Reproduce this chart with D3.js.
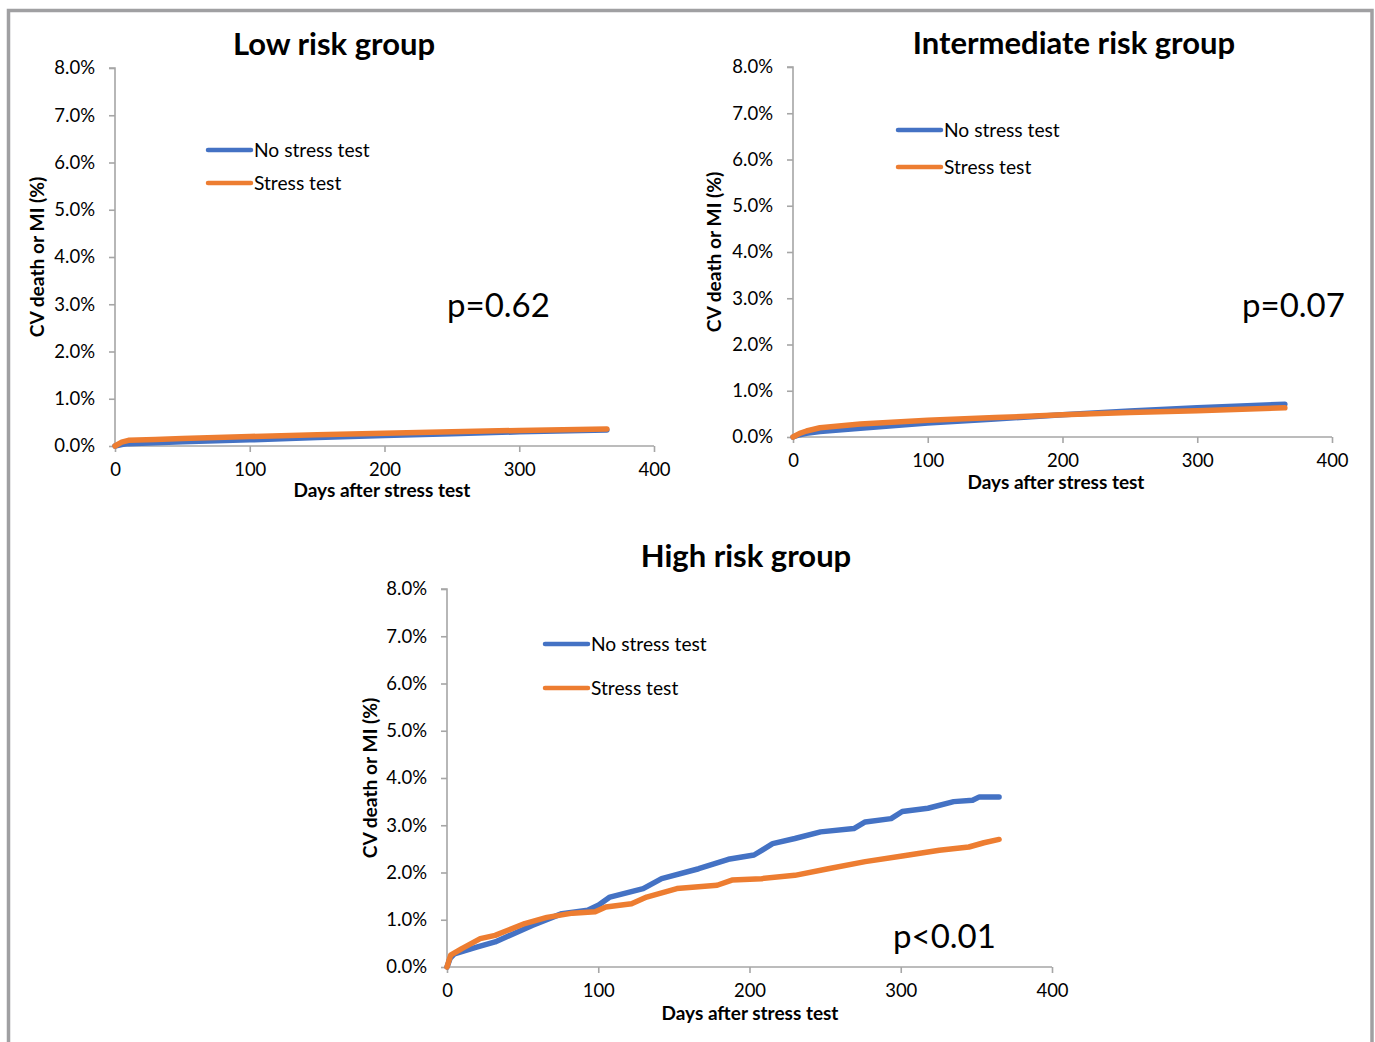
<!DOCTYPE html>
<html>
<head>
<meta charset="utf-8">
<script src="https://cdn.jsdelivr.net/npm/d3@7"></script>
<style>
  html, body { margin: 0; padding: 0; background: #fff; }
  svg { display: block; }
  text { font-family: Lato, "Open Sans", sans-serif; fill: #000; }
</style>
</head>
<body>
<svg id="chart" width="1375" height="1042"></svg>
<script>
// ---------- DATA ----------
const seriesNames = ["No stress test", "Stress test"];
const xTicks = [0, 100, 200, 300, 400];
const yTicks = [0, 1, 2, 3, 4, 5, 6, 7, 8]; // percent
const panelTitles = ["Low risk group", "Intermediate risk group", "High risk group"];
const pValues = ["p=0.62", "p=0.07", "p<0.01"];

// Low risk group (days, % cumulative)
const lowDays      = [0, 5, 10, 30, 50, 100, 150, 200, 250, 300, 365];
const lowNoStress  = [0, 0.03, 0.05, 0.07, 0.09, 0.13, 0.18, 0.22, 0.26, 0.30, 0.34];
const lowStress    = [0, 0.08, 0.12, 0.14, 0.16, 0.20, 0.24, 0.27, 0.30, 0.33, 0.36];

// Intermediate risk group
const intDays      = [0, 5, 10, 20, 50, 100, 150, 200, 250, 300, 365];
const intNoStress  = [0, 0.05, 0.08, 0.12, 0.19, 0.30, 0.39, 0.48, 0.56, 0.63, 0.71];
const intStress    = [0, 0.08, 0.13, 0.20, 0.28, 0.36, 0.42, 0.48, 0.53, 0.57, 0.63];

// High risk group
const highNoStressDays = [0, 2, 4.9, 19.6, 31.8, 56.3, 75.9, 93, 100.3, 107.7, 129.7, 141.9, 166.4, 186, 203, 215.3, 230, 247, 269, 276.5, 293.6, 301, 318, 335, 347.5, 352, 365];
const highNoStress     = [0, 0.18, 0.28, 0.42, 0.53, 0.88, 1.13, 1.20, 1.31, 1.48, 1.66, 1.87, 2.08, 2.28, 2.37, 2.61, 2.72, 2.86, 2.93, 3.07, 3.14, 3.29, 3.36, 3.50, 3.53, 3.60, 3.60];
const highStressDays   = [0, 2.4, 9.8, 22, 31.8, 51.4, 66, 83, 98, 105, 122, 132, 152, 178.6, 188.4, 208, 230, 252, 276.5, 301, 325.5, 345, 355, 365];
const highStress       = [0, 0.25, 0.39, 0.60, 0.67, 0.92, 1.05, 1.14, 1.17, 1.27, 1.34, 1.48, 1.66, 1.73, 1.84, 1.87, 1.94, 2.08, 2.23, 2.35, 2.47, 2.54, 2.63, 2.70];

// ---------- STYLE / LAYOUT ----------
const colors = ["#4472C4", "#ED7D31"];
const axisColor = "#A6A6A6";

const panels = [
  { title: panelTitles[0], p: pValues[0],
    x0: 115, x1: 654, yB: 446, yT: 68,
    titleX: 334, titleY: 55,
    legX: 208, legY: [150, 183],
    pX: 447, pY: 317,
    yLabX: 37, xLabX: 382, xLabY: 497,
    series: [[lowDays, lowNoStress], [lowDays, lowStress]] },
  { title: panelTitles[1], p: pValues[1],
    x0: 793, x1: 1332, yB: 437, yT: 67,
    titleX: 1074, titleY: 54,
    legX: 898, legY: [130, 167],
    pX: 1242, pY: 317,
    yLabX: 714, xLabX: 1056, xLabY: 489,
    series: [[intDays, intNoStress], [intDays, intStress]] },
  { title: panelTitles[2], p: pValues[2],
    x0: 447, x1: 1052, yB: 967, yT: 589,
    titleX: 746, titleY: 567,
    legX: 545, legY: [644, 688],
    pX: 893, pY: 948,
    yLabX: 370, xLabX: 750, xLabY: 1020,
    series: [[highNoStressDays, highNoStress], [highStressDays, highStress]] }
];

const svg = d3.select("#chart");

// outer frame
svg.append("rect")
  .attr("x", 8.5).attr("y", 10.5)
  .attr("width", 1372 - 8.5).attr("height", 1100)
  .attr("fill", "none").attr("stroke", "#A0A0A2").attr("stroke-width", 3.5);

panels.forEach(pn => {
  const g = svg.append("g");
  const x = d3.scaleLinear().domain([0, 400]).range([pn.x0, pn.x1]);
  const y = d3.scaleLinear().domain([0, 8]).range([pn.yB, pn.yT]);

  // Y axis
  const yAxis = g.append("g").attr("transform", `translate(${pn.x0},0)`)
    .call(d3.axisLeft(y).tickValues(yTicks).tickSize(6).tickPadding(14)
      .tickFormat(d => d.toFixed(1) + "%"));
  // X axis
  const xAxis = g.append("g").attr("transform", `translate(0,${pn.yB})`)
    .call(d3.axisBottom(x).tickValues(xTicks).tickSize(6).tickPadding(11)
      .tickFormat(d3.format("d")));
  [yAxis, xAxis].forEach(a => {
    a.select(".domain").attr("stroke", axisColor).attr("stroke-width", 1.6);
    a.selectAll(".tick line").attr("stroke", axisColor).attr("stroke-width", 1.6);
    a.selectAll(".tick text").style("font-size", "18.5px").attr("fill", "#000")
      .style("font-family", "Lato, 'Open Sans', sans-serif");
  });
  yAxis.select(".domain").attr("d", `M-6,${pn.yT}H0V${pn.yB}`);
  xAxis.select(".domain").attr("d", `M${pn.x0},0H${pn.x1}`);

  // lines
  const line = d3.line().x(d => x(d[0])).y(d => y(d[1]));
  pn.series.forEach((s, i) => {
    const pts = s[0].map((d, k) => [d, s[1][k]]);
    g.append("path").datum(pts)
      .attr("d", line)
      .attr("fill", "none")
      .attr("stroke", colors[i])
      .attr("stroke-width", 5.5)
      .attr("stroke-linecap", "round")
      .attr("stroke-linejoin", "round");
  });

  // title
  g.append("text").attr("x", pn.titleX).attr("y", pn.titleY)
    .attr("text-anchor", "middle")
    .style("font-size", "31px").style("font-weight", "bold")
    .text(pn.title);

  // legend
  seriesNames.forEach((nm, i) => {
    g.append("line")
      .attr("x1", pn.legX).attr("x2", pn.legX + 43)
      .attr("y1", pn.legY[i]).attr("y2", pn.legY[i])
      .attr("stroke", colors[i]).attr("stroke-width", 4.5)
      .attr("stroke-linecap", "round");
    g.append("text").attr("x", pn.legX + 46).attr("y", pn.legY[i] + 6.5)
      .style("font-size", "19.2px").text(nm);
  });

  // p-value
  g.append("text").attr("x", pn.pX).attr("y", pn.pY)
    .style("font-size", "33px").text(pn.p);

  // axis labels
  g.append("text")
    .attr("transform", `translate(${pn.yLabX},${(pn.yT + pn.yB) / 2}) rotate(-90)`)
    .attr("text-anchor", "middle").attr("dy", "0.35em")
    .style("font-size", "19.2px").style("font-weight", "bold")
    .text("CV death or MI (%)");
  g.append("text")
    .attr("x", pn.xLabX).attr("y", pn.xLabY)
    .attr("text-anchor", "middle")
    .style("font-size", "19px").style("font-weight", "bold")
    .text("Days after stress test");
});
</script>
</body>
</html>
